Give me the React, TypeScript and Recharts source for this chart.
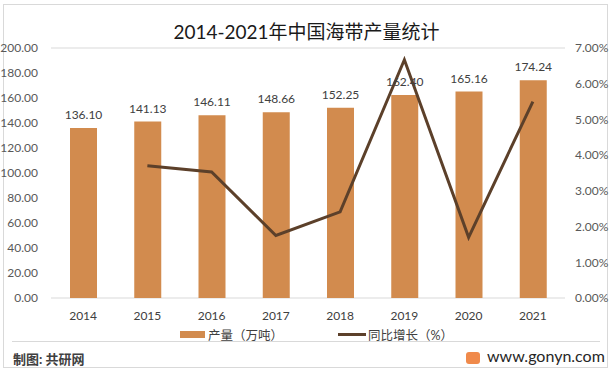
import { ComposedChart, Bar, Line, XAxis, YAxis, CartesianGrid, LabelList } from 'recharts';

const years = ['2014', '2015', '2016', '2017', '2018', '2019', '2020', '2021'];
const output = [136.1, 141.13, 146.11, 148.66, 152.25, 162.4, 165.16, 174.24];
const growth = [null, 3.7, 3.53, 1.75, 2.41, 6.67, 1.7, 5.5];

const leftTicks = [0, 20, 40, 60, 80, 100, 120, 140, 160, 180, 200];
const rightTicks = [0, 1, 2, 3, 4, 5, 6, 7];

const BAR = '#d28b4e';
const LINE = '#5c402a';
const FONT = 'Lato, "Noto Sans CJK SC", sans-serif';

const data = years.map((y, i) => ({ year: y, output: output[i], growth: growth[i] }));

export default function App() {
  return (
    <div style={{ position: 'absolute', left: 0, top: 0, width: 613, height: 374, background: '#fff', fontFamily: FONT }}>
      <div style={{ position: 'absolute', left: 3, top: 4, width: 603, height: 362, border: '1px solid #d9d9d9' }} />
      <div style={{ position: 'absolute', left: 0, width: 613, top: 17, textAlign: 'center', fontSize: 19, color: '#1a1a1a' }}>
        2014-2021年中国海带产量统计
      </div>
      <ComposedChart width={613} height={374} data={data} margin={{ top: 48, right: 0, bottom: 46, left: 0 }} style={{ position: 'absolute', left: 0, top: 0 }}>
        <CartesianGrid vertical={false} stroke="#d9d9d9" />
        <XAxis dataKey="year" height={30} axisLine={false} tickLine={false} tick={{ fontSize: 12, fill: '#404040' }} tickMargin={7} />
        <YAxis yAxisId="left" width={51} domain={[0, 200]} ticks={leftTicks} axisLine={false} tickLine={false}
          tick={{ fontSize: 12, fill: '#595959' }} tickFormatter={(v: number) => v.toFixed(2)} tickMargin={7} />
        <YAxis yAxisId="right" orientation="right" width={48} domain={[0, 7]} ticks={rightTicks} axisLine={false} tickLine={false}
          tick={{ fontSize: 12, fill: '#595959' }} tickFormatter={(v: number) => v.toFixed(2) + '%'} tickMargin={4} />
        <Bar yAxisId="left" dataKey="output" fill={BAR} barSize={27} isAnimationActive={false}>
          <LabelList dataKey="output" position="top" offset={9} formatter={(v: number) => v.toFixed(2)}
            style={{ fontSize: 12, fill: '#404040' }} />
        </Bar>
        <Line yAxisId="right" dataKey="growth" stroke={LINE} strokeWidth={3} dot={false} connectNulls={false} isAnimationActive={false} />
      </ComposedChart>
      <div style={{ position: 'absolute', left: 180, top: 325, display: 'flex', alignItems: 'center', fontSize: 12.5, color: '#404040' }}>
        <span style={{ width: 25, height: 7, background: BAR, display: 'inline-block', marginRight: 3 }} />
        产量（万吨）
      </div>
      <div style={{ position: 'absolute', left: 338, top: 325, display: 'flex', alignItems: 'center', fontSize: 12.5, color: '#404040' }}>
        <span style={{ width: 28, height: 2.5, background: LINE, display: 'inline-block', marginRight: 2 }} />
        同比增长（%）
      </div>
      <div style={{ position: 'absolute', left: 12, width: 588, top: 341, borderTop: '1px solid #d9d9d9' }} />
      <div style={{ position: 'absolute', left: 13, top: 349, fontSize: 13, fontWeight: 'bold', color: '#404040' }}>制图: 共研网</div>
      <div style={{ position: 'absolute', left: 466, top: 352, width: 14, height: 12, background: '#f08a4b', borderRadius: 3 }} />
      <div style={{ position: 'absolute', left: 487, top: 346, fontSize: 16, color: '#262626' }}>www.gonyn.com</div>
    </div>
  );
}
